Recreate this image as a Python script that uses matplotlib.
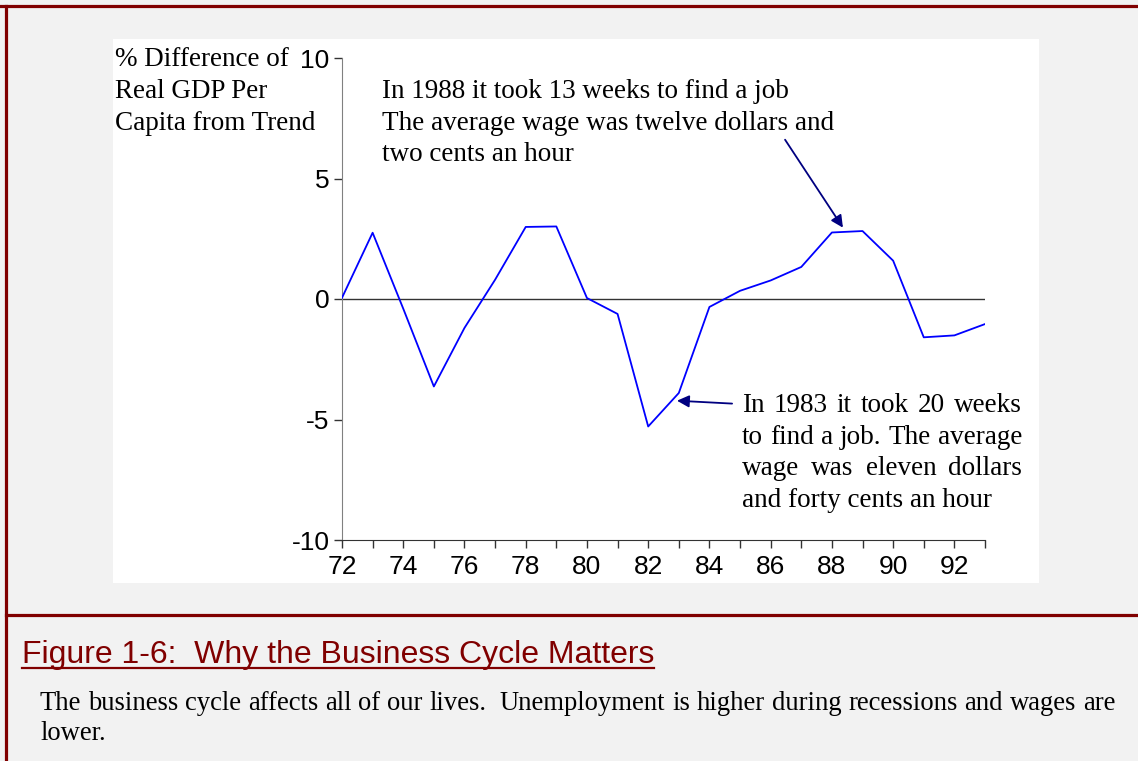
"""Business cycle chart: % difference of real GDP per capita from trend, 1972-1993."""

import matplotlib

matplotlib.use("Agg")
import matplotlib.pyplot as plt
from matplotlib.lines import Line2D
from matplotlib.patches import Rectangle

YEARS = list(range(72, 94))
GDP_GAP = [
    0.05, 2.75, -0.4, -3.63, -1.2, 0.8, 2.99, 3.01, 0.04, -0.62, -5.29,
    -3.9, -0.33, 0.34, 0.77, 1.33, 2.76, 2.82, 1.59, -1.59, -1.51, -1.04,
]
Y_TICKS = [-10, -5, 0, 5, 10]
X_TICK_LABELS = [str(y) if y % 2 == 0 else "" for y in YEARS]

Y_LABEL = ["% Difference of", "Real GDP Per", "Capita from Trend"]
NOTE_1988 = ["In 1988 it took 13 weeks to find a job",
             "The average wage was twelve dollars and",
             "two cents an hour"]
NOTE_1983 = ["In 1983 it took 20 weeks",
             "to find a job. The average",
             "wage was eleven dollars",
             "and forty cents an hour"]
CAPTION = "Figure 1-6:  Why the Business Cycle Matters"
BODY = ["The business cycle affects all of our lives.  Unemployment is higher "
        "during recessions and wages are",
        "lower."]

W, H = 1138, 761
BG = "#f2f2f2"
MAROON = "#800000"
SERIF = "Liberation Serif"
SANS = "Liberation Sans"


def fx(px):
    return px / W


def fy(py):
    return 1 - py / H


fig = plt.figure(figsize=(W / 100, H / 100), dpi=100, facecolor=BG)
renderer = fig.canvas.get_renderer()


def text_width(s, **kw):
    t = fig.text(0, 0, s, **kw)
    w = t.get_window_extent(renderer).width
    t.remove()
    return w


def put_line(x0, base, s, right=None, **kw):
    """Write one line at a pixel baseline; spread words to `right` if given."""
    if right is None:
        return fig.text(fx(x0), fy(base), s, va="baseline", ha="left", **kw)
    words = s.split(" ")
    widths = [text_width(w, **kw) if w else 0.0 for w in words]
    gap = (right - x0 - sum(widths)) / (len(words) - 1)
    x = x0
    for word, w in zip(words, widths):
        if word:
            fig.text(fx(x), fy(base), word, va="baseline", ha="left", **kw)
        x += w + gap


def put_block(x0, first_base, step, lines, right=None, **kw):
    for i, s in enumerate(lines):
        r = right if (right is not None and i < len(lines) - 1) else None
        put_line(x0, first_base + i * step, s, right=r, **kw)


# white panel behind the chart
fig.patches.append(Rectangle((fx(113), fy(583)), fx(1039) - fx(113), fy(39) - fy(583),
                             transform=fig.transFigure, facecolor="white",
                             edgecolor="none", zorder=-5))

# maroon frame: top, left, and separator above the caption
for xs, ys in [((0, 1), (fy(6), fy(6))),
               ((fx(6), fx(6)), (0, fy(6))),
               ((fx(6), 1), (fy(615), fy(615)))]:
    fig.add_artist(Line2D(xs, ys, transform=fig.transFigure, color=MAROON, lw=2.3))

ax = fig.add_axes([fx(342), fy(540), fx(985) - fx(342), fy(58) - fy(540)])
ax.set_facecolor("none")
ax.plot(YEARS, GDP_GAP, color="#0000ff", lw=1.3, zorder=3)
ax.axhline(0, color="#333333", lw=1.0, zorder=2)

ax.set_xlim(72, 93)
ax.set_ylim(-10, 10)
ax.set_xticks(YEARS, X_TICK_LABELS)
ax.set_yticks(Y_TICKS, [str(v) for v in Y_TICKS])
ax.tick_params(axis="both", direction="out", length=6, width=1.0, colors="#333333",
               labelcolor="black", labelsize=19)
ax.tick_params(axis="x", pad=4.5)
ax.tick_params(axis="y", pad=3)
for lab in ax.get_xticklabels() + ax.get_yticklabels():
    lab.set_fontfamily(SANS)
for side in ("top", "right"):
    ax.spines[side].set_visible(False)
ax.spines["left"].set_color("#808080")
ax.spines["bottom"].set_color("#333333")

serif = dict(family=SERIF, fontsize=19.5)
put_block(115, 66, 32, Y_LABEL, **serif)
put_block(382, 98, 31.5, NOTE_1988, **serif)
put_block(742, 412, 31.6, NOTE_1983, right=1022, **serif)

arrow = dict(arrowstyle="-|>", color="#000080", lw=1.3, mutation_scale=18,
             shrinkA=0, shrinkB=0)
ax.annotate("", xy=(88.36, 2.96), xytext=(86.47, 6.61), arrowprops=arrow)
ax.annotate("", xy=(82.94, -4.22), xytext=(84.74, -4.34), arrowprops=arrow)

cap = put_line(22, 663, CAPTION, family=SANS, fontsize=23, color=MAROON)
put_block(40, 710, 30, BODY, right=1115, family=SERIF, fontsize=19.2)

# underline the caption
bb = cap.get_window_extent(renderer)
fig.add_artist(Line2D([fx(bb.x0), fx(bb.x1)], [fy(668), fy(668)],
                      transform=fig.transFigure, color=MAROON, lw=1.6))

fig.savefig("out.png", dpi=100, facecolor=BG)
